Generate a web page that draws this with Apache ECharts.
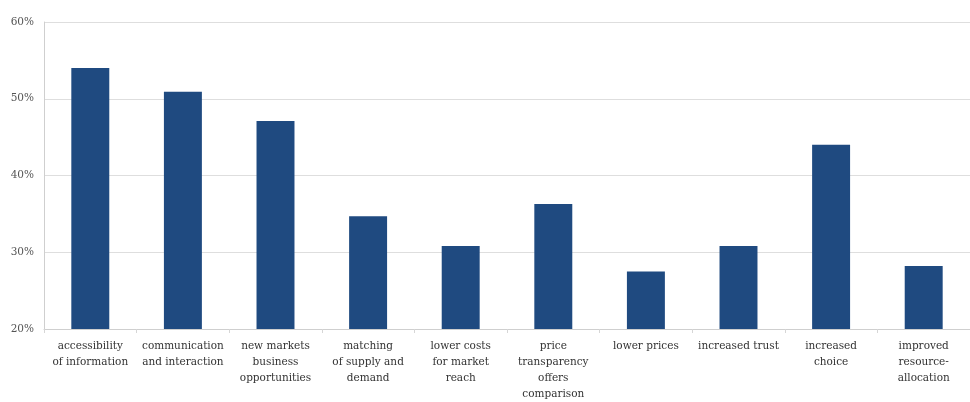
<!DOCTYPE html>
<html><head><meta charset="utf-8">
<script src="https://cdn.jsdelivr.net/npm/echarts@6/dist/echarts.min.js"></script>
<style>html,body{margin:0;padding:0;background:#fff}#c{width:970px;height:402px}</style>
</head><body><div id="c"></div>
<script>
const categories = [
  "accessibility\nof information",
  "communication\nand interaction",
  "new markets\nbusiness\nopportunities",
  "matching\nof supply and\ndemand",
  "lower costs\nfor market\nreach",
  "price\ntransparency\noffers\ncomparison",
  "lower prices",
  "increased trust",
  "increased\nchoice",
  "improved\nresource-\nallocation"
];
const values = [54.0, 50.9, 47.1, 34.7, 30.8, 36.3, 27.5, 30.8, 44.0, 28.2];
const yTicks = [20, 30, 40, 50, 60];

const chart = echarts.init(document.getElementById('c'));
chart.setOption({
  animation: false,
  grid: {left: 44, right: -1, top: 22, bottom: 70, containLabel: false},
  xAxis: {
    type: 'category', data: categories,
    axisLine: {lineStyle: {color: '#cfcfcf'}},
    axisTick: {show: true, lineStyle: {color: '#d6d6d6'}, length: 4},
    axisLabel: {interval: 0, color: '#333', fontFamily: 'DejaVu Serif', fontSize: 10.5, lineHeight: 16, margin: 9}
  },
  yAxis: {
    type: 'value', min: yTicks[0], max: yTicks[yTicks.length-1], interval: 10,
    axisLine: {show: true, lineStyle: {color: '#cfcfcf'}},
    axisTick: {show: false},
    splitLine: {lineStyle: {color: '#dedede'}},
    axisLabel: {color: '#555', fontFamily: 'DejaVu Serif', fontSize: 10.5, margin: 10, formatter: v => v + '%'}
  },
  series: [{
    type: 'bar', data: values, barWidth: '41%',
    itemStyle: {color: '#1f4a80'}
  }]
});
</script></body></html>
